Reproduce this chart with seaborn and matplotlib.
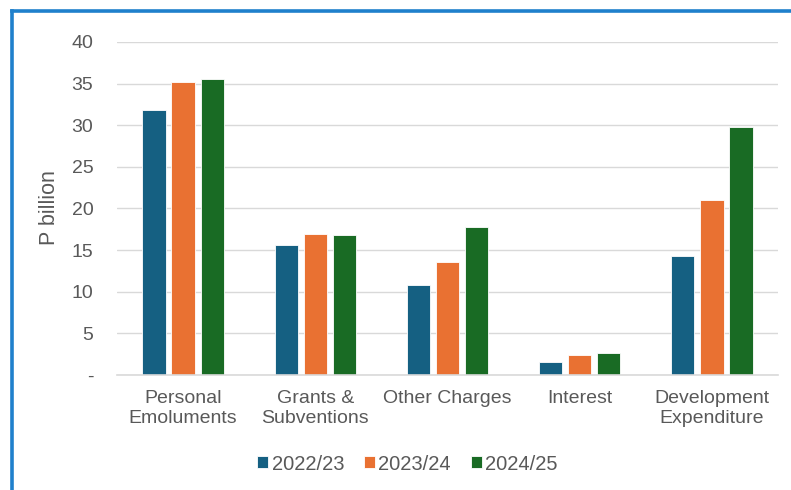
import matplotlib
matplotlib.use("Agg")
import matplotlib.pyplot as plt
from matplotlib.lines import Line2D
import seaborn as sns
import pandas as pd

categories = ["Personal\nEmoluments", "Grants &\nSubventions", "Other Charges",
              "Interest", "Development\nExpenditure"]
years = ["2022/23", "2023/24", "2024/25"]
values_2022 = [31.8, 15.6, 10.8, 1.6, 14.3]
values_2023 = [35.2, 16.9, 13.6, 2.4, 21.0]
values_2024 = [35.5, 16.8, 17.8, 2.6, 29.8]
colors = ["#156082", "#E97132", "#196B24"]
y_ticks = [0, 5, 10, 15, 20, 25, 30, 35, 40]
y_tick_labels = ["-", "5", "10", "15", "20", "25", "30", "35", "40"]

rows = []
for year, vals in zip(years, [values_2022, values_2023, values_2024]):
    for cat, v in zip(categories, vals):
        rows.append({"Category": cat, "Year": year, "Value": v})
df = pd.DataFrame(rows)

sns.set_theme(style="white")
plt.rcParams["font.family"] = ["Liberation Sans", "DejaVu Sans"]

W, H = 791, 490
fig = plt.figure(figsize=(W / 100, H / 100), dpi=100)
ax = fig.add_axes([117 / W, 1 - 375 / H, (778 - 117) / W, (375 - 42) / H])

sns.barplot(data=df, x="Category", y="Value", hue="Year", order=categories,
            hue_order=years, palette=colors, saturation=1, width=0.66, gap=0.2,
            edgecolor="white", linewidth=0.6, ax=ax, legend=True)

ax.set_ylim(0, 40)
ax.set_xlim(-0.5, len(categories) - 0.5)
ax.set_yticks(y_ticks)
ax.set_yticklabels(y_tick_labels)
ax.yaxis.grid(True, color="#D9D9D9", linewidth=1.0)
ax.set_axisbelow(True)
for side in ["top", "right", "left"]:
    ax.spines[side].set_visible(False)
ax.spines["bottom"].set_color("#D9D9D9")
ax.spines["bottom"].set_linewidth(1.2)
ax.tick_params(axis="both", length=0, labelsize=14, colors="#595959")
ax.tick_params(axis="y", pad=17)
ax.tick_params(axis="x", pad=11)
for lbl in ax.get_xticklabels():
    lbl.set_linespacing(1.2)
ax.set_xlabel("")
ax.set_ylabel("")
fig.text(50 / W, 1 - 207.5 / H, "P billion", rotation=90, ha="center", va="center",
         fontsize=15.5, color="#595959")

handles, labels = ax.get_legend_handles_labels()
ax.legend(handles, labels, loc="center", bbox_to_anchor=(407.5 / W, 1 - 464 / H),
          bbox_transform=fig.transFigure, ncol=3, frameon=False, fontsize=14.5,
          handlelength=0.55, handleheight=0.55, handletextpad=0.15,
          columnspacing=1.0, labelcolor="#595959")

# frame lines along the left and top edges
border = "#1F80CC"
fig.add_artist(Line2D([11.5 / W, 11.5 / W], [0, 1 - 11.5 / H],
                      transform=fig.transFigure, color=border, linewidth=2.6,
                      solid_capstyle="projecting"))
fig.add_artist(Line2D([11.5 / W, 1], [1 - 11.5 / H, 1 - 11.5 / H],
                      transform=fig.transFigure, color=border, linewidth=2.6,
                      solid_capstyle="projecting"))

fig.savefig("out.png", dpi=100)
